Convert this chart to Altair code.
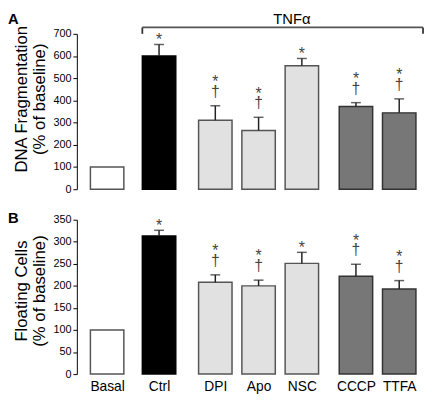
import altair as alt
import pandas as pd

# ---------------- data ----------------
categories = ["Basal", "Ctrl", "DPI", "Apo", "NSC", "CCCP", "TTFA"]
groups = ["Basal", "Ctrl", "ROS", "ROS", "ROS", "Mito", "Mito"]
dna_mean = [100, 600, 311, 265, 556, 373, 344]
dna_sem = [0, 52, 65, 59, 33, 17, 63]
float_mean = [100, 313, 208, 200, 251, 222, 193]
float_sem = [0, 13, 17, 13, 25, 27, 19]
star_marks = ["", "*", "*", "*", "*", "*", "*"]
dagger_dna = ["", "", "†", "†", "", "†", "†"]
dagger_float = ["", "", "†", "†", "", "†", "†"]
dna_ticks = [0, 100, 200, 300, 400, 500, 600, 700]
float_ticks = [0, 50, 100, 150, 200, 250, 300, 350]

# ---------------- layout / style ----------------
slot = [0, 1.2, 2.5, 3.5, 4.5, 5.75, 6.75]   # grouped bar slots
X_DOMAIN = [-0.7, 7.3]
PLOT_W = 352
BAR_W = 34
FONT = "Liberation Sans"
group_domain = ["Basal", "Ctrl", "ROS", "Mito"]
fill_range = ["#ffffff", "#000000", "#e1e1e1", "#777777"]
stroke_range = ["#555555", "#000000", "#555555", "#333333"]
mark_color = "#444444"

x_scale = alt.Scale(domain=X_DOMAIN, nice=False, zero=False, padding=0)
label_map = "{" + ",".join("'%g':'%s'" % (p, c) for p, c in zip(slot, categories)) + "}"


def panel(mean, sem, dagger, domain_max, ticks, height, title, title_y,
          letter, letter_y, show_x, bracket):
    df = pd.DataFrame({
        "cat": categories, "grp": groups, "pos": slot,
        "mean": mean, "sem": sem, "star": star_marks, "dagger": dagger,
    })
    df["top"] = df["mean"] + df["sem"]
    ysc = alt.Scale(domain=[0, domain_max], nice=False, zero=True)
    yaxis = alt.Axis(values=ticks, title=title, titleFont=FONT, titleFontSize=17,
                     titleFontWeight="normal", titleColor="#000", titleY=title_y,
                     titlePadding=5, titleLineHeight=18,
                     labelFont=FONT, labelFontSize=11, labelColor="#000",
                     labelPadding=2, tickSize=4, tickColor="#000", domainColor="#000",
                     grid=False)
    if show_x:
        xaxis = alt.Axis(values=slot, labelExpr=label_map + "[''+datum.value]",
                         domain=False, ticks=False, grid=False, title=None,
                         labelFont=FONT, labelFontSize=14, labelColor="#000",
                         labelPadding=6, labelFlush=False, labelOverlap=False)
    else:
        xaxis = None

    def X(field="pos"):
        return alt.X(field + ":Q", scale=x_scale, axis=xaxis)

    def Y(field):
        return alt.Y(field + ":Q", scale=ysc, axis=yaxis)

    base = alt.Chart(df)
    bars = base.mark_bar(size=BAR_W, strokeWidth=1.5).encode(
        x=X(), y=Y("mean"),
        fill=alt.Fill("grp:N", scale=alt.Scale(domain=group_domain, range=fill_range), legend=None),
        stroke=alt.Stroke("grp:N", scale=alt.Scale(domain=group_domain, range=stroke_range), legend=None),
    )
    err = base.transform_filter("datum.sem > 0")
    rule = err.mark_rule(color="#222", strokeWidth=1.5).encode(x=X(), y=Y("mean"), y2="top:Q")
    cap = err.mark_tick(orient="horizontal", size=10, thickness=1.5, color="#222").encode(x=X(), y=Y("top"))
    star_txt = dict(font=FONT, fontSize=16, color=mark_color, baseline="alphabetic", align="center")
    star_only = base.transform_filter("datum.star != '' && datum.dagger == ''").mark_text(dy=1, **star_txt).encode(
        x=X(), y=Y("top"), text="star:N")
    star_dag = base.transform_filter("datum.star != '' && datum.dagger != ''").transform_calculate(
        sd="datum.star + '\\n' + datum.dagger"
    ).mark_text(dy=-19, lineBreak="\n", lineHeight=10, **star_txt).encode(
        x=X(), y=Y("top"), text="sd:N")
    letter_mark = alt.Chart(pd.DataFrame({"t": [letter]})).mark_text(
        font=FONT, fontSize=15, fontWeight="bold", align="left", baseline="alphabetic", color="#000"
    ).encode(x=alt.value(-70), y=alt.value(letter_y), text="t:N")
    layers = [bars, rule, cap, star_only, star_dag, letter_mark]

    if bracket:
        px_per_unit = height / domain_max
        left = slot[1] - (BAR_W / 2) / (PLOT_W / (X_DOMAIN[1] - X_DOMAIN[0]))
        right = X_DOMAIN[1]
        br_y = domain_max + 6.5 / px_per_unit
        tnf_y = domain_max + 10.5 / px_per_unit
        hline = alt.Chart(pd.DataFrame({"x": [left], "x2": [right], "y": [br_y]})).mark_rule(
            color="#555", strokeWidth=1.8).encode(x=alt.X("x:Q", scale=x_scale, axis=xaxis), x2="x2:Q", y=Y("y"))
        vlines = alt.Chart(pd.DataFrame({"x": [left, right], "y": [br_y, br_y], "y2": [domain_max, domain_max]})).mark_rule(
            color="#333", strokeWidth=1.8).encode(x=alt.X("x:Q", scale=x_scale, axis=xaxis), y=Y("y"), y2="y2:Q")
        tnf = alt.Chart(pd.DataFrame({"x": [4.27], "y": [tnf_y], "t": ["TNFα"]})).mark_text(
            font=FONT, fontSize=15, baseline="alphabetic", align="center", color="#000").encode(
            x=alt.X("x:Q", scale=x_scale, axis=xaxis), y=Y("y"), text="t:N")
        layers += [hline, vlines, tnf]

    return alt.layer(*layers).properties(width=PLOT_W, height=height)


panel_a = panel(dna_mean, dna_sem, dagger_dna, 700, dna_ticks, 158,
                ["DNA Fragmentation", "(% of baseline)"], 66, "A", -10.5, False, True)
panel_b = panel(float_mean, float_sem, dagger_float, 350, float_ticks, 157,
                ["Floating Cells", "(% of baseline)"], 72, "B", 3, True, False)

chart = alt.vconcat(panel_a, panel_b, spacing=17).properties(
    padding=0, background="white"
).configure_view(stroke=None)

chart.save("out.html", embed_options={"renderer": "svg", "actions": False})
